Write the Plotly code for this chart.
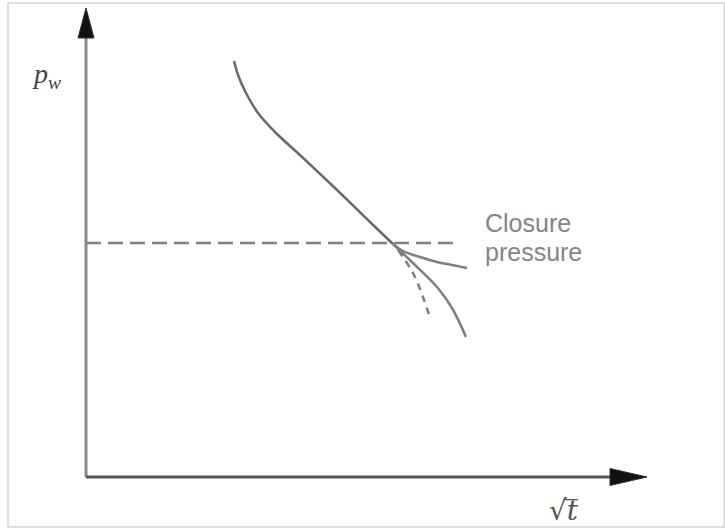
import plotly.graph_objects as go

# Schematic data (arbitrary units: sqrt(t) on x, p_w on y)
main_x = [14.8, 15.2, 15.9, 17.2, 19.0, 21.5, 25.0, 28.5, 30.7]
main_y = [41.6, 40.2, 38.6, 36.4, 34.4, 32.1, 28.8, 25.4, 23.3]

upper_x = [30.7, 31.7, 33.4, 35.1, 36.6, 38.1]
upper_y = [23.3, 22.6, 22.0, 21.5, 21.2, 20.9]

lower_x = [30.7, 32.7, 35.1, 36.6, 38.0]
lower_y = [23.3, 21.4, 19.0, 16.9, 14.0]

mid_x = [31.2, 32.7, 33.7, 34.4]
mid_y = [22.7, 20.4, 18.0, 15.9]

closure_p = 23.4
closure_x = [0, 36.9]

x_axis_end = 52.4
x_arrow_tip = 56.1
y_axis_end = 43.9
y_arrow_tip = 46.9

x_range = [-8.6, 63.9]
y_range = [-5.2, 47.7]

curve_col = "#7f7f7f"

fig = go.Figure()

# axes lines
fig.add_trace(go.Scatter(x=[0, 0], y=[0, y_axis_end], mode="lines",
                         line=dict(color="#8a8a8a", width=3), hoverinfo="skip"))
fig.add_trace(go.Scatter(x=[0, x_axis_end], y=[0, 0], mode="lines",
                         line=dict(color="#555555", width=3), hoverinfo="skip"))

# closure pressure dashed line
fig.add_trace(go.Scatter(x=closure_x, y=[closure_p, closure_p], mode="lines",
                         line=dict(color=curve_col, width=2.5, dash="15px,7px"), hoverinfo="skip"))

# curves
fig.add_trace(go.Scatter(x=main_x, y=main_y, mode="lines", line_shape="spline",
                         line=dict(color="#6a6a6a", width=2.5, smoothing=0.8), hoverinfo="skip"))
fig.add_trace(go.Scatter(x=upper_x, y=upper_y, mode="lines", line_shape="spline",
                         line=dict(color=curve_col, width=2.5), hoverinfo="skip"))
fig.add_trace(go.Scatter(x=lower_x, y=lower_y, mode="lines", line_shape="spline",
                         line=dict(color=curve_col, width=2.5), hoverinfo="skip"))
fig.add_trace(go.Scatter(x=mid_x, y=mid_y, mode="lines", line_shape="spline",
                         line=dict(color=curve_col, width=2.5, dash="7px,6px"), hoverinfo="skip"))

shapes = [
    # y arrow head
    dict(type="path", xref="x", yref="y",
         path=f"M -0.8,{y_axis_end} L 0,{y_arrow_tip} L 0.8,{y_axis_end} Z",
         fillcolor="#111111", line=dict(color="#333333", width=1)),
    # x arrow head
    dict(type="path", xref="x", yref="y",
         path=f"M {x_axis_end},0.85 L {x_arrow_tip},0 L {x_axis_end},-0.85 Z",
         fillcolor="#111111", line=dict(color="#333333", width=1)),
    # frame
    dict(type="rect", xref="paper", yref="paper", x0=8/725, x1=0.999, y0=2/529, y1=1-3/529,
         line=dict(color="#d4d4d4", width=1.5), fillcolor="rgba(0,0,0,0)"),
]

annotations = [
    dict(x=39.7, y=25.4, xref="x", yref="y", text="Closure", showarrow=False,
         xanchor="left", yanchor="middle",
         font=dict(family="Liberation Sans, Arial", size=25, color="#858585")),
    dict(x=39.7, y=22.5, xref="x", yref="y", text="pressure", showarrow=False,
         xanchor="left", yanchor="middle",
         font=dict(family="Liberation Sans, Arial", size=25, color="#858585")),
    dict(x=-5.6, y=40.2, xref="x", yref="y",
         text="<i>p</i><sub><i>w</i></sub>", showarrow=False,
         xanchor="left", yanchor="middle",
         font=dict(family="Liberation Serif, Times New Roman", size=28, color="#444444")),
    dict(x=46.1, y=-3.3, xref="x", yref="y",
         text="√<i>t</i>\u0305", showarrow=False,
         xanchor="left", yanchor="middle",
         font=dict(family="DejaVu Serif", size=28, color="#555555")),
]

fig.update_layout(
    width=725, height=529, autosize=False,
    margin=dict(l=0, r=0, t=0, b=0),
    paper_bgcolor="white", plot_bgcolor="white",
    showlegend=False,
    xaxis=dict(range=x_range, visible=False, fixedrange=True),
    yaxis=dict(range=y_range, visible=False, fixedrange=True),
    shapes=shapes, annotations=annotations,
)

fig.write_html("out.html")
